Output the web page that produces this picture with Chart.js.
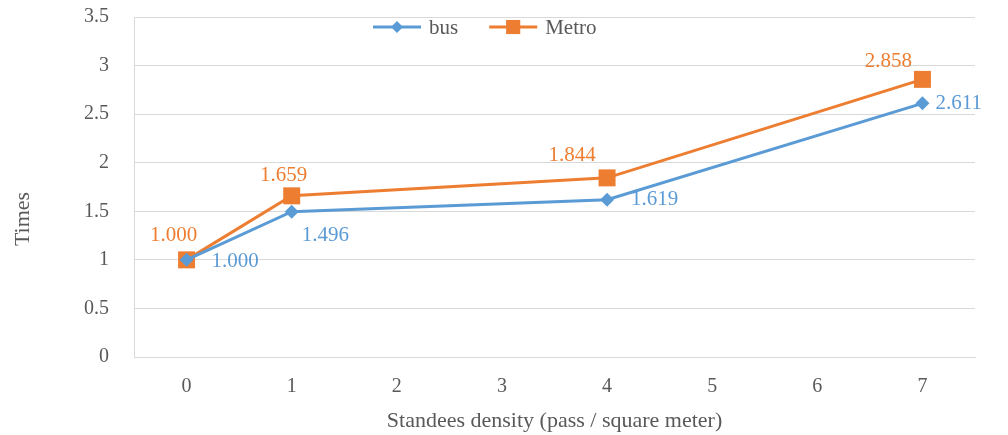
<!DOCTYPE html>
<html>
<head>
<meta charset="utf-8">
<script src="https://cdn.jsdelivr.net/npm/chart.js@4/dist/chart.umd.min.js"></script>
<style>
  html, body { margin: 0; padding: 0; background: #fff; }
  #wrap { width: 1008px; height: 435px; }
</style>
</head>
<body>
<div id="wrap"><canvas id="c" width="1008" height="435"></canvas></div>
<script>
// Standees density categories shown on the x axis
const tickLabels = ['0', '1', '2', '3', '4', '5', '6', '7'];
// Densities at which the ratio was measured
const densities = ['0', '1', '4', '7'];
// Travel-time ratio relative to the empty vehicle
const busTimes = [1.000, 1.496, 1.619, 2.611];
const metroTimes = [1.000, 1.659, 1.844, 2.858];

const BLUE = '#5B9BD5';
const ORANGE = '#ED7D31';
const TEXT = '#595959';
const GRID = '#D9D9D9';
const SERIF = '"Liberation Serif", "Times New Roman", serif';

// Where each value label sits relative to its point: [dx, dy, align]
const labelPlacement = {
  bus:   [[25, 2, 'left'], [10, 24, 'left'], [24, 0, 'left'], [13, 0, 'left']],
  metro: [[-13, -24, 'center'], [-8, -20, 'center'], [-35, -22, 'center'], [-34, -18, 'center']]
};

const valueLabels = {
  id: 'valueLabels',
  afterDatasetsDraw(chart) {
    const ctx = chart.ctx;
    ctx.save();
    ctx.font = '21px ' + SERIF;
    ctx.textBaseline = 'middle';
    chart.data.datasets.forEach((ds, di) => {
      const meta = chart.getDatasetMeta(di);
      const place = labelPlacement[ds.key];
      meta.data.forEach((pt, i) => {
        const [dx, dy, align] = place[i];
        ctx.fillStyle = ds.borderColor;
        ctx.textAlign = align;
        ctx.fillText(ds.data[i].y.toFixed(3), pt.x + dx, pt.y + dy);
      });
    });
    ctx.restore();
  }
};

// Legend drawn inside the plot area, line-plus-marker style
const innerLegend = {
  id: 'innerLegend',
  afterDraw(chart) {
    const ctx = chart.ctx;
    const y = 27;
    let x = 373;
    ctx.save();
    ctx.font = '21px ' + SERIF;
    ctx.textBaseline = 'middle';
    ctx.textAlign = 'left';
    chart.data.datasets.forEach(ds => {
      ctx.strokeStyle = ds.borderColor;
      ctx.lineWidth = 3;
      ctx.beginPath();
      ctx.moveTo(x, y);
      ctx.lineTo(x + 48, y);
      ctx.stroke();
      ctx.fillStyle = ds.borderColor;
      Chart.helpers.drawPoint(ctx, {
        pointStyle: ds.pointStyle,
        radius: ds.pointStyle === 'rect' ? 10 : 6,
        rotation: 0,
        borderWidth: 0
      }, x + 24, y);
      ctx.fillStyle = TEXT;
      ctx.fillText(ds.label, x + 56, y + 1);
      x += 56 + ctx.measureText(ds.label).width + 31;
    });
    ctx.restore();
  }
};

// Vertical axis title, set a little below the axis middle
const yAxisTitle = {
  id: 'yAxisTitle',
  afterDraw(chart) {
    const ctx = chart.ctx;
    ctx.save();
    ctx.translate(23, 219);
    ctx.rotate(-Math.PI / 2);
    ctx.font = '22px ' + SERIF;
    ctx.fillStyle = TEXT;
    ctx.textAlign = 'center';
    ctx.textBaseline = 'middle';
    ctx.fillText('Times', 0, 0);
    ctx.restore();
  }
};

const toPoints = vals => densities.map((d, i) => ({ x: d, y: vals[i] }));

new Chart(document.getElementById('c'), {
  type: 'line',
  data: {
    labels: tickLabels,
    datasets: [
      {
        key: 'bus',
        label: 'bus',
        data: toPoints(busTimes),
        borderColor: BLUE,
        backgroundColor: BLUE,
        borderWidth: 3,
        pointStyle: 'rectRot',
        pointRadius: 7,
        pointBorderWidth: 0,
        tension: 0
      },
      {
        key: 'metro',
        label: 'Metro',
        data: toPoints(metroTimes),
        borderColor: ORANGE,
        backgroundColor: ORANGE,
        borderWidth: 3,
        pointStyle: 'rect',
        pointRadius: 12,
        pointBorderWidth: 0,
        tension: 0
      }
    ]
  },
  options: {
    responsive: false,
    animation: false,
    devicePixelRatio: 1,
    layout: { autoPadding: false, padding: { top: 17, right: 33, bottom: 0, left: 0 } },
    plugins: {
      legend: { display: false },
      tooltip: { enabled: false }
    },
    scales: {
      x: {
        type: 'category',
        offset: true,
        grid: { display: false, drawTicks: false },
        border: { display: true, color: GRID, width: 1 },
        ticks: { color: TEXT, font: { family: SERIF, size: 20 }, padding: 18 },
        title: {
          display: true,
          text: 'Standees density (pass / square meter)',
          color: TEXT,
          font: { family: SERIF, size: 22 },
          padding: { top: 4, bottom: 1 }
        },
        afterFit(scale) { scale.height = 78; }
      },
      y: {
        min: 0,
        max: 3.5,
        ticks: {
          stepSize: 0.5,
          color: TEXT,
          font: { family: SERIF, size: 20 },
          padding: 3,
          callback: v => String(v)
        },
        grid: {
          color: GRID,
          lineWidth: 1,
          drawTicks: true,
          tickLength: 22,
          tickColor: 'rgba(0,0,0,0)'
        },
        border: { display: true, color: GRID, width: 1 },
        title: { display: false },
        afterFit(scale) { scale.width = 134; }
      }
    }
  },
  plugins: [valueLabels, innerLegend, yAxisTitle]
});
</script>
</body>
</html>
